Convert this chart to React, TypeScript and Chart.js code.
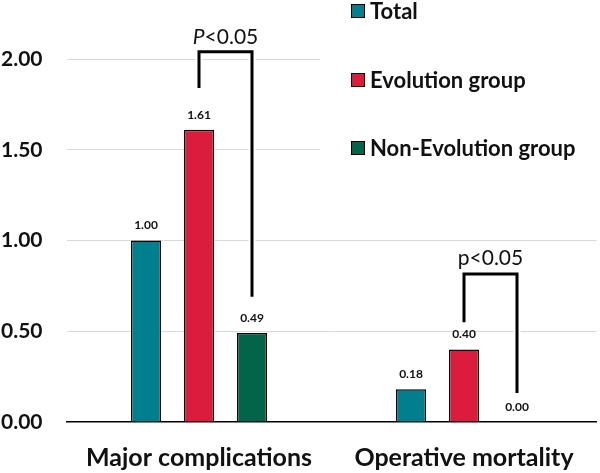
import React, { useEffect, useRef } from 'react';
import { Chart, registerables } from 'chart.js';

Chart.register(...registerables);

// ---- data ----
const categories = ['Major complications', 'Operative mortality'];
const seriesNames = ['Total', 'Evolution group', 'Non-Evolution group'];
const totalValues = [1.0, 0.18];
const evolutionValues = [1.61, 0.4];
const nonEvolutionValues = [0.49, 0.0];
const yTickValues = [0, 0.5, 1.0, 1.5, 2.0];

// significance brackets: between Evolution (series 1) and Non-Evolution (series 2)
const bracketCategory = [0, 1];
const bracketFromSeries = [1, 1];
const bracketToSeries = [2, 2];
const bracketTop = [2.04, 0.815];
const bracketLeftEnd = [1.84, 0.55];
const bracketRightEnd = [0.69, 0.16];
const bracketLabelValue = [2.12, 0.905];
const bracketItalicPrefix = ['P', ''];
const bracketLabelText = ['<0.05', 'p<0.05'];

// ---- styles ----
const FONT = 'Lato, "Open Sans", sans-serif';
const COLORS = ['#00808F', '#DC1C3C', '#02654A'];
const TEXT = '#111111';

const overlayPlugin = {
  id: 'overlay',
  afterDraw(chart: any) {
    const ctx = chart.ctx as CanvasRenderingContext2D;
    const ys = chart.scales.y;
    ctx.save();

    // value labels
    ctx.font = `bold 12px ${FONT}`;
    ctx.fillStyle = TEXT;
    ctx.textAlign = 'center';
    ctx.textBaseline = 'middle';
    chart.data.datasets.forEach((ds: any, di: number) => {
      const meta = chart.getDatasetMeta(di);
      meta.data.forEach((el: any, i: number) => {
        ctx.fillText(Number(ds.data[i]).toFixed(2), el.x, el.y - 15);
      });
    });

    // legend box (covers gridlines)
    ctx.fillStyle = '#ffffff';
    ctx.fillRect(320, 0, chart.width - 320, 170);
    const legendY = [11, 80, 148];
    seriesNames.forEach((name, i) => {
      ctx.fillStyle = COLORS[i];
      ctx.fillRect(351.5, legendY[i] - 6.5, 13, 13);
      ctx.strokeStyle = '#000';
      ctx.lineWidth = 1;
      ctx.strokeRect(351.5, legendY[i] - 6.5, 13, 13);
      ctx.fillStyle = TEXT;
      ctx.font = `bold 22px ${FONT}`;
      ctx.textAlign = 'left';
      ctx.textBaseline = 'middle';
      ctx.fillText(name, 370, legendY[i] + 1);
    });

    // brackets
    bracketCategory.forEach((c, b) => {
      const left = chart.getDatasetMeta(bracketFromSeries[b]).data[c].x;
      const right = chart.getDatasetMeta(bracketToSeries[b]).data[c].x;
      const top = ys.getPixelForValue(bracketTop[b]);
      const path = () => {
        ctx.beginPath();
        ctx.moveTo(left, ys.getPixelForValue(bracketLeftEnd[b]));
        ctx.lineTo(left, top);
        ctx.lineTo(right, top);
        ctx.lineTo(right, ys.getPixelForValue(bracketRightEnd[b]));
      };
      ctx.lineJoin = 'miter';
      ctx.lineCap = 'butt';
      ctx.strokeStyle = '#ffffff';
      ctx.lineWidth = 7;
      path();
      ctx.stroke();
      ctx.strokeStyle = '#000';
      ctx.lineWidth = 3;
      path();
      ctx.stroke();

      // label
      const ly = ys.getPixelForValue(bracketLabelValue[b]);
      const mid = (left + right) / 2;
      ctx.textBaseline = 'middle';
      ctx.fillStyle = TEXT;
      const italicFont = `italic 21px ${FONT}`;
      const normalFont = `21px ${FONT}`;
      ctx.font = italicFont;
      const w1 = bracketItalicPrefix[b] ? ctx.measureText(bracketItalicPrefix[b]).width : 0;
      ctx.font = normalFont;
      const w2 = ctx.measureText(bracketLabelText[b]).width;
      let sx = mid - (w1 + w2) / 2;
      ctx.textAlign = 'left';
      if (bracketItalicPrefix[b]) {
        ctx.font = italicFont;
        ctx.fillText(bracketItalicPrefix[b], sx, ly);
        sx += w1;
      }
      ctx.font = normalFont;
      ctx.fillText(bracketLabelText[b], sx, ly);
    });

    ctx.restore();
  },
};

export default function App() {
  const ref = useRef<HTMLCanvasElement>(null);
  useEffect(() => {
    document.body.style.margin = '0';
    const canvas = ref.current!;
    const chart = new Chart(canvas, {
      type: 'bar',
      data: {
        labels: categories,
        datasets: [totalValues, evolutionValues, nonEvolutionValues].map((vals, i) => ({
          label: seriesNames[i],
          data: vals,
          backgroundColor: COLORS[i],
          borderColor: '#000',
          borderWidth: 1.5,
          categoryPercentage: 0.6,
          barPercentage: 0.57,
        })),
      },
      options: {
        responsive: false,
        animation: false,
        devicePixelRatio: 1,
        layout: { padding: { top: 59, right: 3.5, left: 0, bottom: 0 } },
        plugins: { legend: { display: false }, tooltip: { enabled: false } },
        scales: {
          x: {
            grid: { display: false, drawTicks: false },
            border: { display: true, color: '#000', width: 1.5 },
            ticks: {
              color: TEXT,
              padding: 21,
              font: { family: FONT, size: 25, weight: 'bold' },
            },
            afterFit: (s: any) => {
              s.height = 51;
            },
          },
          y: {
            min: 0,
            max: 2,
            afterBuildTicks: (s: any) => {
              s.ticks = yTickValues.map((v) => ({ value: v }));
            },
            ticks: {
              color: TEXT,
              padding: 24,
              font: { family: FONT, size: 21, weight: 'bold' },
              callback: (v: any) => Number(v).toFixed(2),
            },
            grid: {
              drawTicks: false,
              lineWidth: 1,
              color: (c: any) => (c.tick && c.tick.value === 0 ? 'rgba(0,0,0,0)' : '#d9d9d9'),
            },
            border: { display: false },
            afterFit: (s: any) => {
              s.width = 66.5;
            },
          },
        },
      },
      plugins: [overlayPlugin],
    } as any);
    return () => chart.destroy();
  }, []);
  return (
    <div style={{ width: 600, height: 473 }}>
      <canvas ref={ref} width={600} height={473} style={{ display: 'block' }} />
    </div>
  );
}
